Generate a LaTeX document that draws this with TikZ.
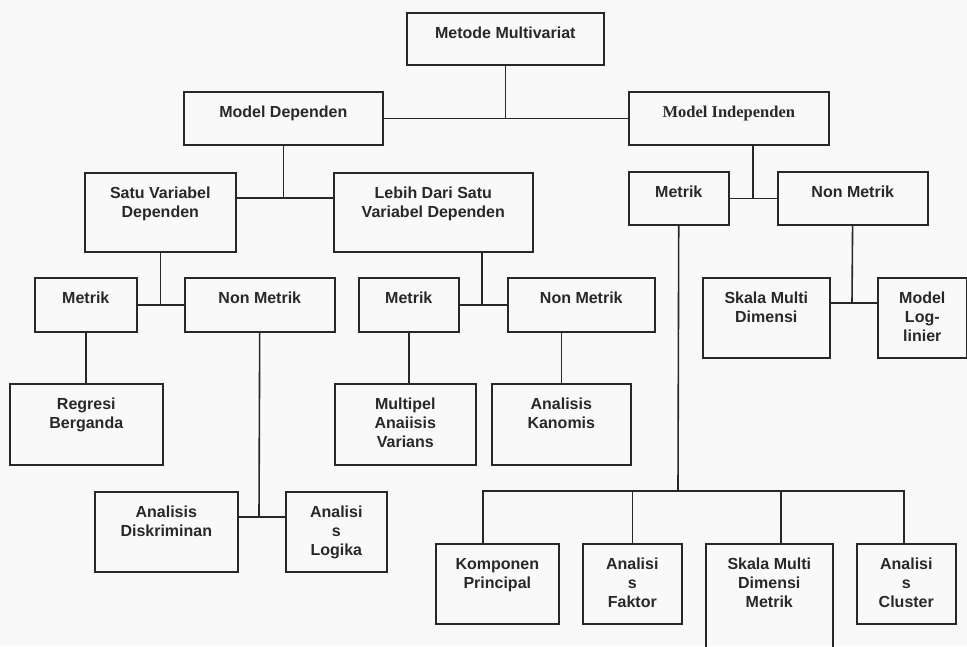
\documentclass[tikz,border=0pt]{standalone}
\usepackage{fontspec}
\setmainfont{Liberation Sans}
\newfontfamily\timesfont{Liberation Serif}
\usepackage{tikz}
\usepackage{xcolor}
\usetikzlibrary{positioning}
\definecolor{inkgray}{RGB}{40, 40, 40}
\definecolor{paper}{RGB}{249, 249, 249}
\newcommand{\toplines}[1]{\begin{tabular}[t]{@{}c@{}}#1\end{tabular}}

\begin{document}
\begin{tikzpicture}[
    x=1pt, y=-1pt,
    box/.style={
      rectangle,
      draw=inkgray,
      line width=1.6pt,
      anchor=north west,
      inner xsep=2pt,
      inner ysep=0pt,
      text height=26pt,
      text=inkgray,
      font=\fontsize{16}{19}\selectfont\bfseries
    },
    link/.style={draw=inkgray, line width=1.6pt}
  ]
    \fill[paper] (0,0) rectangle (967,646);
    \useasboundingbox (0,0) rectangle (967,646);

    \node[box, minimum width=197pt, text depth=26pt] (meto) at (406,12) {Metode Multivariat};
    \node[box, minimum width=199pt, text depth=27pt] (mdep) at (183,91) {Model Dependen};
    \node[box, minimum width=200pt, text depth=27pt, font=\fontsize{16.5}{19}\selectfont\timesfont\bfseries] (mind) at (628,91) {Model Independen};

    \node[box, minimum width=151pt, text depth=53pt] (satu) at (84,172) {\toplines{Satu Variabel\\Dependen}};
    \node[box, minimum width=199pt, text depth=53pt] (lebih) at (333,172) {\toplines{Lebih Dari Satu\\Variabel Dependen}};
    \node[box, minimum width=100pt, text depth=27pt] (metC) at (628,171) {Metrik};
    \node[box, minimum width=150pt, text depth=27pt] (nonC) at (777,171) {Non Metrik};

    \node[box, minimum width=102pt, text depth=28pt] (metA) at (34,277) {Metrik};
    \node[box, minimum width=150pt, text depth=28pt] (nonA) at (184,277) {Non Metrik};
    \node[box, minimum width=100pt, text depth=28pt] (metB) at (358,277) {Metrik};
    \node[box, minimum width=147pt, text depth=28pt] (nonB) at (507,277) {Non Metrik};
    \node[box, minimum width=127pt, text depth=54pt] (smd) at (702,277) {\toplines{Skala Multi\\Dimensi}};
    \node[box, minimum width=89pt, text depth=54pt] (mll) at (877,277) {\toplines{Model\\Log-\\linier}};

    \node[box, minimum width=153pt, text depth=55pt] (regr) at (9,383) {\toplines{Regresi\\Berganda}};
    \node[box, minimum width=141pt, text depth=55pt] (mav) at (334,383) {\toplines{Multipel\\Anaiisis\\Varians}};
    \node[box, minimum width=139pt, text depth=55pt] (kano) at (491,383) {\toplines{Analisis\\Kanomis}};

    \node[box, minimum width=143pt, text depth=54pt] (disk) at (94,491) {\toplines{Analisis\\Diskriminan}};
    \node[box, minimum width=101pt, text depth=54pt] (logi) at (285,491) {\toplines{Analisi\\s\\Logika}};

    \node[box, minimum width=123pt, text depth=54pt] (komp) at (435,543) {\toplines{Komponen\\Principal}};
    \node[box, minimum width=99pt, text depth=54pt] (fakt) at (582,543) {\toplines{Analisi\\s\\Faktor}};
    \node[box, minimum width=127pt, text depth=94pt] (smdm) at (705,543) {\toplines{Skala Multi\\Dimensi\\Metrik}};
    \node[box, minimum width=99pt, text depth=54pt] (clus) at (856,543) {\toplines{Analisi\\s\\Cluster}};

    \coordinate (jdep) at (283,198);
    \coordinate (jleb) at (482,304);
    \coordinate (jind) at (753,197.5);
    \coordinate (jnon) at (852,303);
    \coordinate (jdis) at (259,517);
    \coordinate (jbus) at (678,491);
    \coordinate (busl) at (483,491);
    \coordinate (busr) at (904,491);
    \coordinate (buss) at (781,491);

    \draw[link] (mdep) -- (mind);
    \draw[link] (meto) -- (meto |- mdep.east);
    \draw[link] (mdep.south) -- (mdep.south |- jdep);
    \draw[link] (satu.east |- jdep) -- (lebih.west |- jdep);
    \draw[link] (satu) -- (satu |- metA);
    \draw[link] (metA) -- (nonA);
    \draw[link] (lebih.south -| jleb) -- (jleb);
    \draw[link] (metB) -- (nonB);
    \draw[link] (mind.south -| jind) -- (jind);
    \draw[link] (metC) -- (nonC);
    \draw[link] (nonC) -- (jnon);
    \draw[link] (smd.east |- jnon) -- (mll.west |- jnon);
    \draw[link] (metA) -- (metA |- regr.north);
    \draw[link] (nonA) -- (jdis);
    \draw[link] (disk.east |- jdis) -- (logi.west |- jdis);
    \draw[link] (metB) -- (metB |- mav.north);
    \draw[link] (kano.north) -- (kano.north |- nonB.south);
    \draw[link] (metC) -- (jbus);
    \draw[link] (busl |- komp.north) -- (busl) -- (busr) -- (busr |- clus.north);
    \draw[link] (fakt.north) -- (fakt.north |- busl);
    \draw[link] (buss) -- (buss |- smdm.north);
  \end{tikzpicture}
\end{document}
